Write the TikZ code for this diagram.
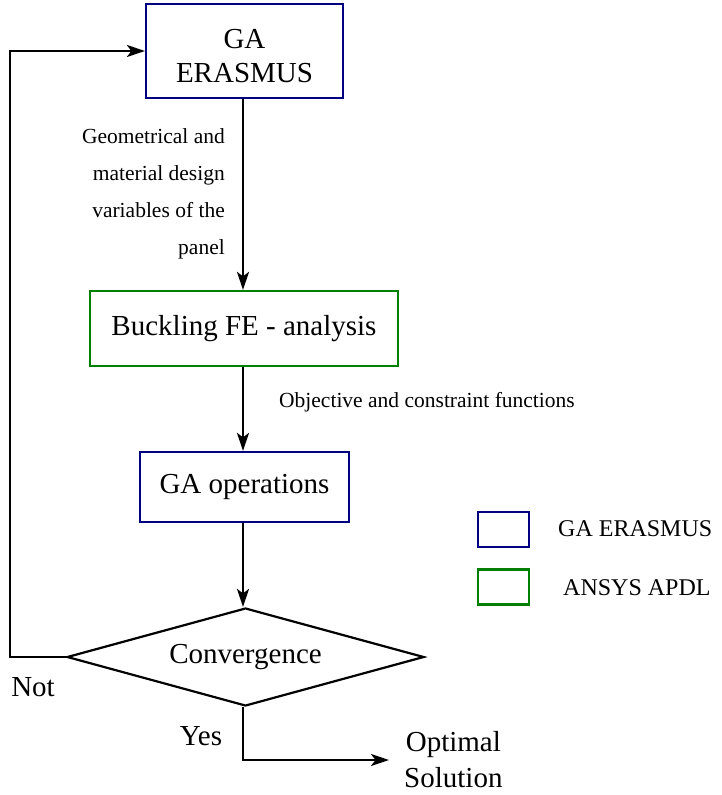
\documentclass[tikz,border=0pt]{standalone}
\usepackage{fontspec}
\setmainfont{Liberation Serif}
\usetikzlibrary{arrows.meta, positioning, shapes.geometric}
\definecolor{gablue}{HTML}{000080}
\definecolor{fegreen}{HTML}{008000}
\tikzset{
  gb/.style={draw=gablue, line width=2.2pt, inner sep=0pt, align=center,
             font=\rmfamily\fontsize{29}{34}\selectfont},
  fb/.style={gb, draw=fegreen},
  lg/.style={draw=#1, line width=2.2pt, minimum width=51pt, minimum height=35pt},
  tx/.style={inner sep=0pt, align=center, font=\rmfamily\fontsize{29}{36}\selectfont},
  sm/.style={inner sep=0pt, font=\rmfamily\fontsize{21.5}{37}\selectfont},
  fl/.style={-{Stealth[length=18pt, width=12pt, inset=4.5pt]}, line width=2.5pt},
}

\begin{document}
\begin{tikzpicture}[x=1pt, y=1pt]
    \useasboundingbox (0,0) rectangle (721,-795);
    \node[gb, minimum width=197pt, minimum height=94pt] (ga) at (244.5,-51) {\rule{0pt}{30pt}GA\\ERASMUS};
    \node[fb, minimum width=308pt, minimum height=75pt] (fe) at (244,-328.5) {Buckling FE - analysis};
    \node[gb, minimum width=209pt, minimum height=70pt] (op) at (244.5,-487) {GA operations};
    \node[diamond, draw, line width=2.2pt, inner sep=0pt, aspect=3.6,
          minimum width=357pt, minimum height=98pt,
          font=\rmfamily\fontsize{29}{34}\selectfont] (cv) at (245.5,-657) {Convergence};
    \node[tx, anchor=west] (os) at (404,-760) {Optimal\\Solution};
    \node[tx] (no) at (33,-687) {Not};
    \node[tx] (ys) at (201,-736) {Yes};
    \coordinate (back) at (10,-657);
    % labels on the arrows
    \node[sm, anchor=east, align=right] (dv) at (225,-194) {Geometrical and\\material design\\variables of the\\panel};
    \node[sm, anchor=west] (of) at (279,-402) {Objective and constraint functions};
    % legend
    \node[lg=gablue] (l1) at (503.5,-529.5) {};
    \node[lg=fegreen] (l2) at (503.5,-587) {};
    \node[tx, font=\rmfamily\fontsize{24}{28}\selectfont, anchor=west] (t1) at (558,-529) {GA ERASMUS};
    \node[tx, font=\rmfamily\fontsize{24}{28}\selectfont, anchor=west] (t2) at (563,-588) {ANSYS APDL};
    \draw[fl] (ga.south -| 243,0) -- (fe.north -| 243,0);
    \draw[fl] (fe.south -| 243,0) -- (op.north -| 243,0);
    \draw[fl] (op.south -| 243,0) -- (cv.north -| 243,0);
    \draw[fl] (cv.west) -- (back) |- (ga.west);
    \draw[fl, shorten >=15pt] (cv.south -| 243,0) |- (os.west);
\end{tikzpicture}
\end{document}
